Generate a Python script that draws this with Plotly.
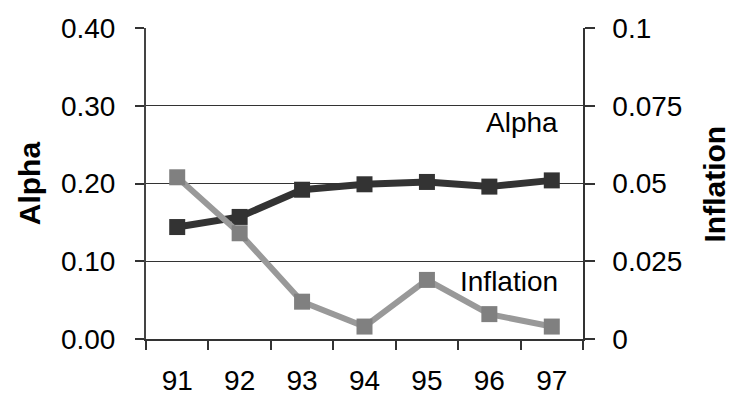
import plotly.graph_objects as go

# Yearly series
years = ["91", "92", "93", "94", "95", "96", "97"]
alpha = [0.144, 0.157, 0.192, 0.199, 0.202, 0.196, 0.204]
inflation = [0.052, 0.034, 0.012, 0.004, 0.019, 0.008, 0.004]

left_ticks = [0.0, 0.1, 0.2, 0.3, 0.4]
left_labels = ["0.00", "0.10", "0.20", "0.30", "0.40"]
right_ticks = [0.0, 0.025, 0.05, 0.075, 0.1]
right_labels = ["0", "0.025", "0.05", "0.075", "0.1"]

FONT = "Liberation Sans, Arial, sans-serif"

fig = go.Figure()
fig.add_trace(go.Scatter(
    x=years, y=alpha, name="Alpha", mode="lines+markers",
    line=dict(color="#333333", width=7),
    marker=dict(symbol="square", size=16, color="#333333"),
    yaxis="y",
))
fig.add_trace(go.Scatter(
    x=years, y=inflation, name="Inflation", mode="lines+markers",
    line=dict(color="#999999", width=6),
    marker=dict(symbol="square", size=16, color="#808080"),
    yaxis="y2",
))

fig.update_layout(
    width=732, height=399,
    margin=dict(l=146, r=149, t=28, b=60, autoexpand=False),
    paper_bgcolor="white", plot_bgcolor="white",
    showlegend=False,
    font=dict(family=FONT, size=28, color="black"),
    xaxis=dict(
        type="category", range=[-0.5, 6.5], automargin=False,
        tickson="boundaries", ticks="outside", ticklen=9, tickwidth=1.5,
        tickcolor="#333333", showline=True, linecolor="#333333", linewidth=1.5,
        showgrid=False, zeroline=False, ticklabelstandoff=16,
    ),
    yaxis=dict(
        range=[0, 0.4], tickvals=left_ticks, ticktext=left_labels, automargin=False,
        ticks="outside", ticklen=9, tickwidth=1.5, tickcolor="#333333",
        showline=True, linecolor="#444444", linewidth=2,
        showgrid=True, gridcolor="#333333", gridwidth=1,
        zeroline=False, ticklabelstandoff=14,
    ),
    yaxis2=dict(
        range=[0, 0.1], tickvals=right_ticks, ticktext=right_labels, automargin=False,
        overlaying="y", side="right",
        ticks="outside", ticklen=10, tickwidth=1.5, tickcolor="#333333",
        showline=True, linecolor="#333333", linewidth=1.5,
        showgrid=False, zeroline=False, ticklabelstandoff=12,
    ),
    annotations=[
        dict(text="<b>Alpha</b>", xref="paper", yref="paper",
             x=-0.266, y=0.5, textangle=-90, showarrow=False,
             font=dict(size=30), xanchor="center", yanchor="middle"),
        dict(text="<b>Inflation</b>", xref="paper", yref="paper",
             x=1.302, y=0.5, textangle=-90, showarrow=False,
             font=dict(size=30), xanchor="center", yanchor="middle"),
        dict(text="Alpha", xref="paper", yref="y",
             x=0.947, y=0.279, showarrow=False,
             font=dict(size=28), xanchor="right", yanchor="middle"),
        dict(text="Inflation", xref="paper", yref="y",
             x=0.947, y=0.0746, showarrow=False,
             font=dict(size=28), xanchor="right", yanchor="middle"),
    ],
)

fig.write_html("out.html")
